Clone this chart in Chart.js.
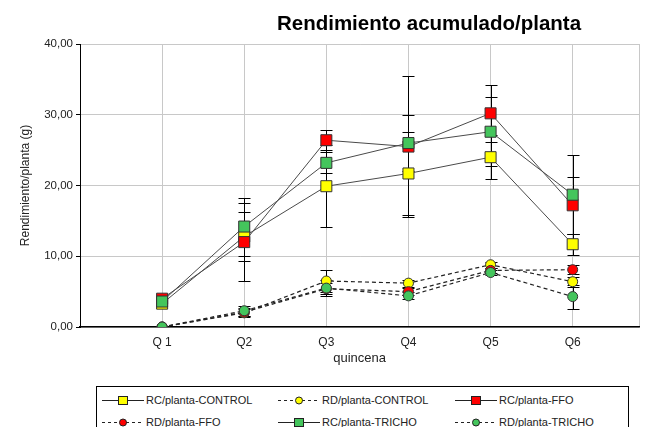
<!DOCTYPE html>
<html>
<head>
<meta charset="utf-8">
<script src="https://cdn.jsdelivr.net/npm/chart.js@4.4.0/dist/chart.umd.min.js"></script>
<style>
    body { margin: 0; background: #fff; font-family: Arial, "Liberation Sans", sans-serif; }
    #wrap { position: relative; width: 648px; height: 427px; overflow: hidden; }
    #title { position: absolute; left: 0; top: 12px; width: 858px; text-align: center; font-weight: bold; font-size: 20.5px; line-height: 22px; color: #000; }
    #chart { position: absolute; left: 0; top: 0; }
    #legend { position: absolute; left: 96px; top: 386px; width: 531px; height: 50px; border: 1px solid #000; background: #fff; }
    .item { position: absolute; height: 14px; font-size: 11px; line-height: 14px; color: #222; white-space: nowrap; }
    .item svg { position: absolute; left: 0; top: 0; }
    .item span { position: absolute; left: 44px; top: 0; }
</style>
</head>
<body>
<div id="wrap">
    <canvas id="chart" width="648" height="380"></canvas>
    <div id="title">Rendimiento acumulado/planta</div>
    <div id="legend"></div>
</div>
<script>
// datos
const quincenas = ['Q 1', 'Q2', 'Q3', 'Q4', 'Q5', 'Q6'];

const rcControl    = [3.3, 12.8, 19.9, 21.7, 24.0, 11.7];
const rcControlErr = [0, 3.5, 5.8, 5.9, 3.1, 1.5];
const rdControl    = [0, 2.0, 6.5, 6.2, 8.8, 6.4];
const rdControlErr = [0, 0.6, 1.6, 0.5, 0.4, 0.7];

const rcFfo    = [4.0, 12.0, 26.4, 25.5, 30.2, 17.2];
const rcFfoErr = [0, 5.5, 1.4, 10.0, 4.0, 4.0];
const rdFfo    = [0, 2.1, 5.4, 5.0, 8.0, 8.1];
const rdFfoErr = [0, 0.6, 0.8, 0.5, 0.4, 0.6];

const rcTricho    = [3.6, 14.2, 23.2, 26.0, 27.6, 18.7];
const rcTrichoErr = [0, 4.1, 1.5, 3.9, 4.9, 5.6];
const rdTricho    = [0, 2.3, 5.5, 4.4, 7.7, 4.3];
const rdTrichoErr = [0, 0.7, 1.1, 0.5, 0.4, 1.7];

const AMARILLO = '#ffff00';
const ROJO = '#ff0000';
const VERDE = '#44c55c';

const toPoints = arr => arr.map((v, i) => ({ x: i + 1, y: v }));

function rcSet(label, values, errors, color, order) {
    return {
        label: label,
        data: toPoints(values),
        errors: errors,
        kind: 'rc',
        borderColor: '#4a4a4a',
        borderWidth: 1,
        backgroundColor: color,
        pointStyle: 'rect',
        pointRadius: 7.8,
        pointHoverRadius: 7.8,
        pointBorderColor: '#333',
        pointBorderWidth: 1,
        tension: 0,
        order: order
    };
}

function rdSet(label, values, errors, color, order) {
    return {
        label: label,
        data: toPoints(values),
        errors: errors,
        kind: 'rd',
        borderColor: '#222',
        borderWidth: 1.2,
        borderDash: [4, 3],
        backgroundColor: color,
        pointStyle: 'circle',
        pointRadius: 5,
        pointHoverRadius: 5,
        pointBorderColor: '#333',
        pointBorderWidth: 1,
        tension: 0,
        order: order
    };
}

const datasets = [
    rcSet('RC/planta-CONTROL', rcControl, rcControlErr, AMARILLO, 6),
    rdSet('RD/planta-CONTROL', rdControl, rdControlErr, AMARILLO, 5),
    rcSet('RC/planta-FFO', rcFfo, rcFfoErr, ROJO, 4),
    rdSet('RD/planta-FFO', rdFfo, rdFfoErr, ROJO, 3),
    rcSet('RC/planta-TRICHO', rcTricho, rcTrichoErr, VERDE, 2),
    rdSet('RD/planta-TRICHO', rdTricho, rdTrichoErr, VERDE, 1)
];

// barras de error (detrás de los marcadores)
const errorBars = {
    id: 'errorBars',
    beforeDatasetsDraw(chart) {
        const ctx = chart.ctx;
        const y = chart.scales.y;
        ctx.save();
        ctx.strokeStyle = '#000';
        ctx.lineWidth = 1;
        chart.data.datasets.forEach((ds, i) => {
            const meta = chart.getDatasetMeta(i);
            meta.data.forEach((pt, j) => {
                const err = ds.errors[j];
                if (!err) return;
                const v = ds.data[j].y;
                const top = Math.round(y.getPixelForValue(v + err)) + 0.5;
                const bot = Math.round(y.getPixelForValue(v - err)) + 0.5;
                const x = Math.round(pt.x) + 0.5;
                ctx.beginPath();
                ctx.moveTo(x, top); ctx.lineTo(x, bot);
                ctx.moveTo(x - 6, top); ctx.lineTo(x + 6, top);
                ctx.moveTo(x - 6, bot); ctx.lineTo(x + 6, bot);
                ctx.stroke();
            });
        });
        ctx.restore();
    }
};

const ctx = document.getElementById('chart').getContext('2d');
new Chart(ctx, {
    type: 'line',
    data: { datasets: datasets },
    plugins: [errorBars],
    options: {
        responsive: false,
        animation: false,
        layout: { padding: { top: 44, right: 8, left: 0, bottom: 0 } },
        plugins: {
            legend: { display: false },
            tooltip: { enabled: false },
            title: { display: false }
        },
        scales: {
            x: {
                type: 'linear',
                min: 0,
                max: 6.81,
                afterFit(scale) { scale.height = 53; },
                ticks: {
                    stepSize: 1,
                    autoSkip: false,
                    padding: 8,
                    color: '#222',
                    font: { family: 'Arial', size: 12 },
                    callback: v => quincenas[v - 1] || ''
                },
                grid: { color: '#c8c8c8', drawTicks: false },
                border: { color: '#000', width: 1.5 },
                title: {
                    display: true,
                    text: 'quincena',
                    color: '#222',
                    font: { family: 'Arial', size: 13 },
                    padding: { top: 0, bottom: 14 }
                }
            },
            y: {
                min: 0,
                max: 40,
                afterFit(scale) { scale.width = 80; },
                ticks: {
                    stepSize: 10,
                    padding: 3,
                    color: '#222',
                    font: { family: 'Arial', size: 11.5 },
                    callback: v => v.toFixed(2).replace('.', ',')
                },
                grid: { color: '#c8c8c8', tickColor: '#000', tickLength: 4 },
                border: { color: '#000', width: 1 },
                title: {
                    display: true,
                    text: 'Rendimiento/planta (g)',
                    color: '#222',
                    font: { family: 'Arial', size: 12 },
                    padding: { top: 18, bottom: 0 }
                }
            }
        }
    }
});

// leyenda en tres columnas
const cols = [5, 181, 358];
const rows = [6, 28];
const legend = document.getElementById('legend');
datasets.forEach((ds, i) => {
    const item = document.createElement('div');
    item.className = 'item';
    item.style.left = cols[i % 3] + 'px';
    item.style.top = rows[Math.floor(i / 3)] + 'px';
    let line, marker;
    if (ds.kind === 'rc') {
        line = '<line x1="0" y1="7.5" x2="42" y2="7.5" stroke="#222" stroke-width="1"/>';
        marker = '<rect x="16.5" y="3.5" width="9" height="8" fill="' + ds.backgroundColor + '" stroke="#222" stroke-width="1"/>';
    } else {
        line = '<line x1="0" y1="7.5" x2="42" y2="7.5" stroke="#222" stroke-width="1" stroke-dasharray="3,3"/>';
        marker = '<circle cx="21" cy="7.5" r="3.5" fill="' + ds.backgroundColor + '" stroke="#222" stroke-width="1"/>';
    }
    item.innerHTML = '<svg width="44" height="14">' + line + marker + '</svg><span>' + ds.label + '</span>';
    legend.appendChild(item);
});
</script>
</body>
</html>
